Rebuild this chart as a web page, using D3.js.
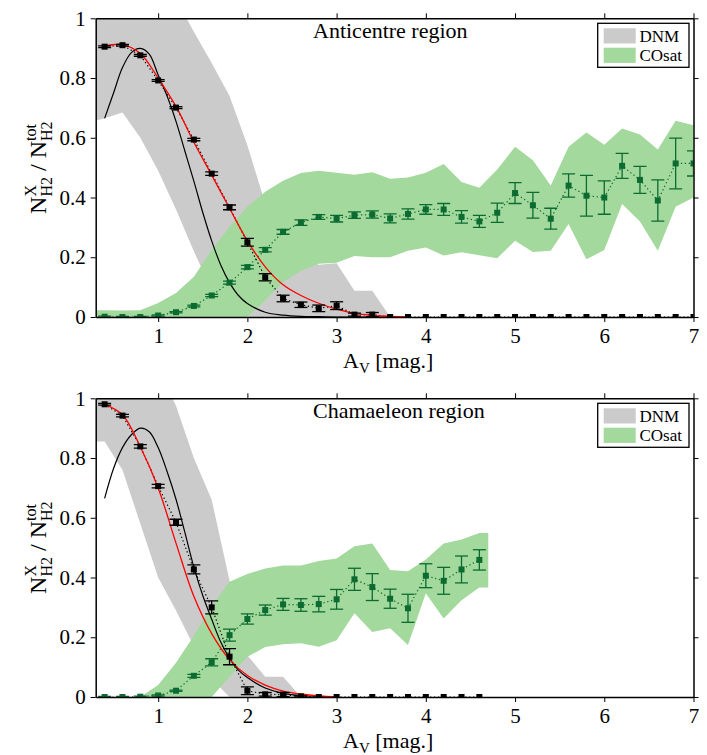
<!DOCTYPE html>
<html><head><meta charset="utf-8">
<script src="https://cdn.jsdelivr.net/npm/d3@7"></script>
<style>
body{margin:0;background:#fff}
svg{display:block}
text{font-family:"Liberation Serif","Times New Roman",serif;fill:#000;white-space:pre}
</style>
</head><body>
<svg id="chart" width="707" height="755"></svg>
<script>
// ---------------- DATA ----------------
const xTicks = [1, 2, 3, 4, 5, 6, 7];
const yTicks = [0, 0.2, 0.4, 0.6, 0.8, 1];

// Anticentre region (top panel)
const topX = [0.4,0.6,0.8,1.0,1.2,1.4,1.6,1.8,2.0,2.2,2.4,2.6,2.8,3.0,3.2,3.4,3.6,3.8,4.0,4.2,4.4,4.6,4.8,5.0,5.2,5.4,5.6,5.8,6.0,6.2,6.4,6.6,6.8,7.0];
const topDNM = [0.905,0.91,0.876,0.792,0.701,0.594,0.48,0.367,0.25,0.133,0.062,0.041,0.029,0.038,0.008,0.008,0,0,0,0,0,0,0,0,0,0,0,0,0,0,0,0,0,0];
const topDNMerr = [0.003,0.003,0.003,0.003,0.003,0.004,0.006,0.008,0.013,0.012,0.011,0.009,0.011,0.013,0.005,0.007,0,0,0,0,0,0,0,0,0,0,0,0,0,0,0,0,0,0];
const topCO = [0.001,0,0,0.005,0.016,0.037,0.072,0.115,0.167,0.225,0.285,0.316,0.335,0.329,0.341,0.343,0.33,0.345,0.36,0.36,0.335,0.32,0.349,0.415,0.374,0.329,0.44,0.406,0.40,0.506,0.459,0.39,0.514,0.514];
const topCOerr = [0.002,0.002,0.002,0.002,0.002,0.003,0.004,0.005,0.006,0.007,0.008,0.009,0.008,0.011,0.011,0.012,0.015,0.017,0.016,0.02,0.021,0.02,0.032,0.035,0.043,0.035,0.039,0.068,0.056,0.042,0.045,0.069,0.085,0.042];

const topGrayX = [0.3,0.4,0.6,0.8,1.0,1.2,1.4,1.6,1.8,2.0,2.2,2.4,2.6,2.8,3.0,3.2,3.4,3.6];
const topGrayHi = [1.1,1.1,1.1,1.1,1.1,1.065,0.955,0.85,0.74,0.575,0.38,0.25,0.2,0.175,0.18,0.088,0.088,0];
const topGrayLo = [0.658,0.665,0.685,0.60,0.49,0.36,0.22,0.09,0,0,0,0,0,0,0,0,0,0];

const topGreenX = [0.3,0.4,0.6,0.8,1.0,1.2,1.4,1.6,1.8,2.0,2.2,2.4,2.6,2.8,3.0,3.2,3.4,3.6,3.8,4.0,4.2,4.4,4.6,4.8,5.0,5.2,5.4,5.6,5.8,6.0,6.2,6.4,6.6,6.8,7.0];
const topGreenHi = [0.023,0.023,0.022,0.023,0.047,0.08,0.135,0.224,0.302,0.369,0.419,0.456,0.482,0.49,0.483,0.476,0.485,0.463,0.467,0.483,0.512,0.452,0.433,0.494,0.57,0.525,0.44,0.57,0.618,0.577,0.631,0.611,0.561,0.657,0.642];
const topGreenLo = [0,0,0,0,0,0,0,0,0,0,0.055,0.117,0.155,0.178,0.182,0.204,0.2,0.2,0.222,0.233,0.206,0.217,0.207,0.197,0.255,0.218,0.222,0.311,0.193,0.224,0.378,0.32,0.222,0.369,0.4];

const topModelX = [0.4,0.5,0.6,0.7,0.8,0.9,1.0,1.1,1.2,1.3,1.4,1.5,1.6,1.7,1.8,1.9,2.0,2.2,2.4,2.6,2.8,3.0,3.4];
const topModelY = [0.665,0.75,0.835,0.885,0.899,0.88,0.81,0.74,0.655,0.555,0.455,0.35,0.255,0.175,0.115,0.072,0.045,0.016,0.006,0.002,0.001,0,0];
const topFitX = [0.4,0.6,0.8,1.0,1.2,1.4,1.6,1.8,2.0,2.2,2.4,2.6,2.8,3.0,3.2,3.4,3.6,3.8];
const topFitY = [0.907,0.912,0.882,0.80,0.705,0.585,0.475,0.364,0.255,0.168,0.108,0.072,0.046,0.026,0.012,0.005,0.002,0];

// Chamaeleon region (bottom panel)
const botX = [0.4,0.6,0.8,1.0,1.2,1.4,1.6,1.8,2.0,2.2,2.4,2.6,2.8,3.0,3.2,3.4,3.6,3.8,4.0,4.2,4.4,4.6];
const botDNM = [0.98,0.942,0.839,0.706,0.585,0.427,0.3,0.135,0.021,0.009,0.008,0.002,0,0,0,0,0,0,0,0,0,0];
const botDNMerr = [0.003,0.004,0.006,0.006,0.01,0.015,0.022,0.027,0.013,0.006,0.007,0.002,0,0,0,0,0,0,0,0,0,0];
const botCO = [0,0,0.001,0.005,0.021,0.071,0.116,0.207,0.261,0.291,0.31,0.308,0.311,0.327,0.394,0.368,0.329,0.297,0.406,0.389,0.427,0.459];
const botCOerr = [0.002,0.002,0.002,0.002,0.002,0.005,0.012,0.02,0.017,0.017,0.02,0.021,0.026,0.033,0.037,0.045,0.032,0.047,0.04,0.045,0.045,0.034];

const botGrayX = [0.3,0.4,0.6,0.8,1.0,1.2,1.4,1.6,1.8,2.0,2.2,2.4,2.6];
const botGrayHi = [1.1,1.1,1.1,1.1,1.1,0.975,0.8,0.66,0.39,0.14,0.068,0.068,0];
const botGrayLo = [0.855,0.855,0.76,0.58,0.40,0.29,0.17,0.06,0,0,0,0,0];

const botGreenX = [0.3,0.4,0.6,0.8,1.0,1.2,1.4,1.6,1.8,2.0,2.2,2.4,2.6,2.8,3.0,3.2,3.4,3.6,3.8,4.0,4.2,4.4,4.6,4.7];
const botGreenHi = [0,0,0,0,0.04,0.115,0.205,0.305,0.386,0.412,0.43,0.44,0.44,0.455,0.464,0.505,0.514,0.425,0.421,0.46,0.514,0.527,0.549,0.549];
const botGreenLo = [0,0,0,0,0,0,0,0,0.068,0.135,0.167,0.177,0.18,0.168,0.19,0.28,0.218,0.23,0.174,0.347,0.263,0.324,0.367,0.367];

const botModelX = [0.4,0.5,0.6,0.7,0.8,0.9,1.0,1.1,1.2,1.3,1.4,1.5,1.6,1.7,1.8,1.9,2.0,2.2,2.4,2.6,2.8,3.0];
const botModelY = [0.665,0.765,0.835,0.878,0.9,0.888,0.835,0.755,0.662,0.55,0.435,0.34,0.26,0.185,0.13,0.09,0.065,0.03,0.012,0.005,0.002,0];
const botFitX = [0.4,0.6,0.8,1.0,1.2,1.4,1.6,1.8,2.0,2.2,2.4,2.6,2.8,3.0];
const botFitY = [0.98,0.945,0.838,0.70,0.515,0.337,0.212,0.125,0.072,0.04,0.02,0.01,0.004,0.001];

const legendLabels = ["DNM", "COsat"];
const titles = ["Anticentre region", "Chamaeleon region"];

// ---------------- STYLE ----------------
const GRAY = "#cbcbcb", GREEN = "#a3d99c", DKGREEN = "#0b6b30";
const FONT = "Liberation Serif";
const svg = d3.select("#chart");
const X0 = 95.7, X1 = 693.5;

const panels = [
  {top:18.3, bottom:317, title:titles[0],
   pX:topX, dnm:topDNM, dnmErr:topDNMerr, co:topCO, coErr:topCOerr,
   grayX:topGrayX, grayHi:topGrayHi, grayLo:topGrayLo,
   greenX:topGreenX, greenHi:topGreenHi, greenLo:topGreenLo,
   modelX:topModelX, modelY:topModelY, fitX:topFitX, fitY:topFitY},
  {top:398.3, bottom:697, title:titles[1],
   pX:botX, dnm:botDNM, dnmErr:botDNMerr, co:botCO, coErr:botCOerr,
   grayX:botGrayX, grayHi:botGrayHi, grayLo:botGrayLo,
   greenX:botGreenX, greenHi:botGreenHi, greenLo:botGreenLo,
   modelX:botModelX, modelY:botModelY, fitX:botFitX, fitY:botFitY}
];

panels.forEach((p, i) => {
  const x = d3.scaleLinear().domain([0.3, 7]).range([X0, X1]);
  const y = d3.scaleLinear().domain([0, 1]).range([p.bottom, p.top]);
  const g = svg.append("g");
  const clipId = "clip" + i;
  svg.append("clipPath").attr("id", clipId).append("rect")
    .attr("x", X0).attr("y", p.top).attr("width", X1 - X0).attr("height", p.bottom - p.top);
  const pg = g.append("g").attr("clip-path", `url(#${clipId})`);

  const band = (xs, lo, hi) => d3.area()
    .x((d, k) => x(xs[k])).y0((d, k) => y(lo[k])).y1((d, k) => y(hi[k]))(xs);
  pg.append("path").attr("d", band(p.grayX, p.grayLo, p.grayHi)).attr("fill", GRAY);
  pg.append("path").attr("d", band(p.greenX, p.greenLo, p.greenHi)).attr("fill", GREEN);

  const line = (xs, ys, curve) => d3.line().curve(curve)
    .x((d, k) => x(xs[k])).y((d, k) => y(ys[k]))(xs);

  // dotted connecting lines
  pg.append("path").attr("d", line(p.pX, p.co, d3.curveLinear))
    .attr("fill", "none").attr("stroke", DKGREEN).attr("stroke-width", 1.2).attr("stroke-dasharray", "1.3,2.6");
  pg.append("path").attr("d", line(p.pX, p.dnm, d3.curveLinear))
    .attr("fill", "none").attr("stroke", "#000").attr("stroke-width", 1.2).attr("stroke-dasharray", "1.3,2.6");

  // model curves
  pg.append("path").attr("d", line(p.modelX, p.modelY, d3.curveCatmullRom))
    .attr("fill", "none").attr("stroke", "#000").attr("stroke-width", 1.2);
  pg.append("path").attr("d", line(p.fitX, p.fitY, d3.curveCatmullRom))
    .attr("fill", "none").attr("stroke", "#ff0000").attr("stroke-width", 1.3);

  // error bars + markers
  const drawSeries = (vals, errs, color) => {
    const eg = pg.append("g").attr("stroke", color).attr("stroke-width", 1.3);
    vals.forEach((v, k) => {
      const e = errs[k];
      if (e <= 0) return;
      const cx = x(p.pX[k]);
      eg.append("line").attr("x1", cx).attr("x2", cx).attr("y1", y(v - e)).attr("y2", y(v + e));
      eg.append("line").attr("x1", cx - 6.5).attr("x2", cx + 6.5).attr("y1", y(v - e)).attr("y2", y(v - e));
      eg.append("line").attr("x1", cx - 6.5).attr("x2", cx + 6.5).attr("y1", y(v + e)).attr("y2", y(v + e));
    });
    pg.append("g").selectAll("rect").data(vals).join("rect")
      .attr("x", (d, k) => x(p.pX[k]) - 3).attr("y", d => y(d) - 3)
      .attr("width", 6).attr("height", 6).attr("fill", color);
  };
  drawSeries(p.co, p.coErr, DKGREEN);
  drawSeries(p.dnm, p.dnmErr, "#000");

  // axes
  const fmtY = d => d === 0 ? "0" : d === 1 ? "1" : d3.format(".1f")(d);
  const fmtX = d3.format("d");
  const axB = g.append("g").attr("transform", `translate(0,${p.bottom})`)
    .call(d3.axisBottom(x).tickValues(xTicks).tickSize(5).tickSizeOuter(0).tickPadding(6).tickFormat(fmtX));
  const axT = g.append("g").attr("transform", `translate(0,${p.top})`)
    .call(d3.axisTop(x).tickValues(xTicks).tickSize(5).tickSizeOuter(0).tickFormat(""));
  const axL = g.append("g").attr("transform", `translate(${X0},0)`)
    .call(d3.axisLeft(y).tickValues(yTicks).tickSize(5).tickSizeOuter(0).tickPadding(5).tickFormat(fmtY));
  const axR = g.append("g").attr("transform", `translate(${X1},0)`)
    .call(d3.axisRight(y).tickValues(yTicks).tickSize(5).tickSizeOuter(0).tickFormat(""));
  [axB, axT, axL, axR].forEach(a => {
    a.attr("font-family", FONT);
    a.select(".domain").attr("stroke", "#000").attr("stroke-width", 1.5);
    a.selectAll(".tick line").attr("stroke", "#000").attr("stroke-width", 1);
    a.selectAll("text").attr("font-family", FONT).attr("font-size", 21).attr("fill", "#000");
  });

  // title
  g.append("text").attr("x", 313).attr("y", p.top + 20).attr("font-family", FONT)
    .attr("font-size", 22).text(p.title);

  // legend
  const lg = g.append("g");
  lg.append("rect").attr("x", 597.7).attr("y", p.top + 5).attr("width", 91.3).attr("height", 44)
    .attr("fill", "#fff").attr("stroke", "#000").attr("stroke-width", 1.3);
  [GRAY, GREEN].forEach((c, k) => {
    lg.append("rect").attr("x", 603.7).attr("y", p.top + 10 + k * 19.4).attr("width", 32).attr("height", 15.2).attr("fill", c);
    lg.append("text").attr("x", 639.5).attr("y", p.top + 23.5 + k * 19.4).attr("font-family", FONT)
      .attr("font-size", 17).text(legendLabels[k]);
  });

  // x label
  const xl = g.append("text").attr("x", 343).attr("y", p.bottom + 51).attr("font-family", FONT).attr("font-size", 22);
  xl.append("tspan").text("A");
  xl.append("tspan").attr("font-size", 15).attr("dy", 5).text("V");
  xl.append("tspan").attr("dy", -5).text(" [mag.]");

  // y label (rotated)
  const yl = g.append("g").attr("transform", `translate(46,${(p.top + p.bottom) / 2}) rotate(-90)`);
  const parts = [];
  let u = 0;
  const addMain = (t) => {
    const el = yl.append("text").attr("x", u).attr("y", 0).attr("font-family", FONT).attr("font-size", 24).text(t);
    u += el.node().getComputedTextLength();
    parts.push(el);
  };
  const addSupSub = (sup, sub) => {
    const a = yl.append("text").attr("x", u).attr("y", -10).attr("font-family", FONT).attr("font-size", 16).text(sup);
    const b = yl.append("text").attr("x", u).attr("y", 6).attr("font-family", FONT).attr("font-size", 16).text(sub);
    parts.push(a, b);
    u += Math.max(a.node().getComputedTextLength(), b.node().getComputedTextLength());
  };
  addMain("N"); addSupSub("X", "H2"); addMain(" / N"); addSupSub("tot", "H2");
  const shift = -u / 2;
  parts.forEach(el => el.attr("x", +el.attr("x") + shift));
});
</script>
</body></html>
